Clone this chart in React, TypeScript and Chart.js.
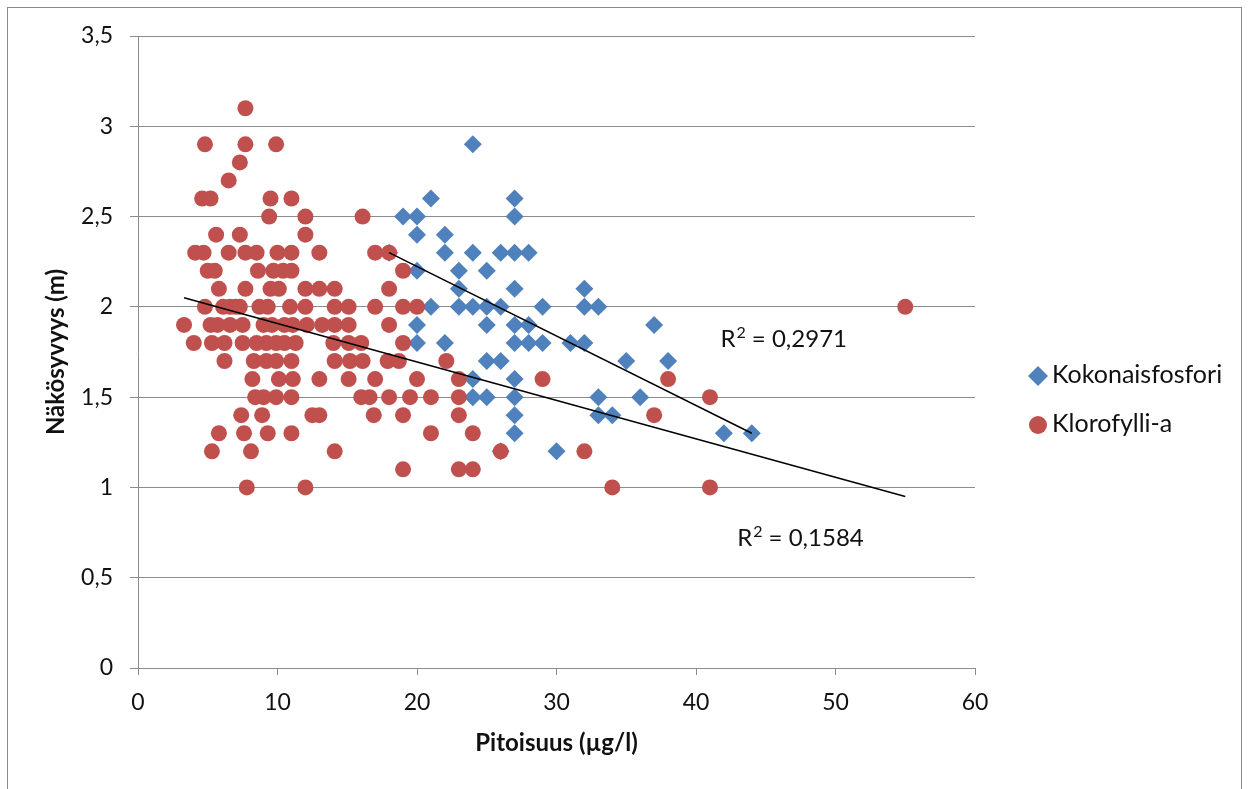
import { useEffect, useRef } from 'react';
import { Chart, registerables } from 'chart.js';

Chart.register(...registerables);

// ---------- data ----------
const seriesNames = ['Kokonaisfosfori', 'Klorofylli-a'];
const xTitle = 'Pitoisuus (µg/l)';
const yTitle = 'Näkösyvyys (m)';
const r2Values = ['0,2971', '0,1584'];

// Kokonaisfosfori (blue diamonds)
const kokX = [
  24,
  21, 27,
  19, 20, 27,
  20, 22,
  18, 22, 24, 26, 27, 28,
  20, 23, 25,
  23, 27, 32,
  21, 23, 24, 25, 26, 29, 32, 33,
  20, 25, 27, 28, 37,
  20, 22, 27, 28, 29, 31, 32,
  25, 26, 35, 38,
  24, 27,
  24, 25, 27, 33, 36,
  27, 33, 34,
  27, 42, 44,
  26, 30,
];
const kokY = [
  2.9,
  2.6, 2.6,
  2.5, 2.5, 2.5,
  2.4, 2.4,
  2.3, 2.3, 2.3, 2.3, 2.3, 2.3,
  2.2, 2.2, 2.2,
  2.1, 2.1, 2.1,
  2.0, 2.0, 2.0, 2.0, 2.0, 2.0, 2.0, 2.0,
  1.9, 1.9, 1.9, 1.9, 1.9,
  1.8, 1.8, 1.8, 1.8, 1.8, 1.8, 1.8,
  1.7, 1.7, 1.7, 1.7,
  1.6, 1.6,
  1.5, 1.5, 1.5, 1.5, 1.5,
  1.4, 1.4, 1.4,
  1.3, 1.3, 1.3,
  1.2, 1.2,
];

// Klorofylli-a (red circles)
const kloX = [
  7.7,
  4.8, 7.7, 9.9,
  7.3,
  6.5,
  4.6, 5.2, 9.5, 11.0,
  9.4, 12.0, 16.1,
  5.6, 7.3, 12.0,
  4.1, 4.7, 6.5, 7.7, 8.5, 10.0, 11.0, 13.0, 17.0, 18.0,
  5.0, 5.5, 8.6, 9.7, 10.4, 11.0, 19.0,
  5.8, 7.7, 9.5, 10.1, 12.0, 13.0, 14.1, 18.0,
  4.8, 6.1, 6.6, 7.0, 7.3, 8.7, 9.3, 10.9, 12.0, 14.1, 15.1, 17.0, 19.0, 20.0, 55.0,
  3.3, 5.2, 5.7, 6.6, 7.5, 9.0, 9.6, 10.5, 11.1, 12.1, 13.2, 14.1, 15.1, 18.0,
  4.0, 5.3, 6.2, 7.5, 8.5, 9.2, 9.9, 10.5, 11.3, 14.0, 15.1, 16.0, 19.0,
  6.2, 8.3, 9.2, 9.9, 11.0, 14.1, 15.2, 16.1, 17.9, 18.7, 22.1,
  8.2, 10.1, 11.1, 13.0, 15.1, 17.0, 20.0, 23.0, 29.0, 38.0,
  8.4, 9.0, 9.9, 11.0, 16.0, 16.6, 18.0, 19.5, 21.0, 23.0, 41.0,
  7.4, 8.9, 12.5, 13.0, 16.9, 19.0, 23.0, 37.0,
  5.8, 7.6, 9.3, 11.0, 21.0, 24.0,
  5.3, 8.1, 14.1, 26.0, 32.0,
  19.0, 23.0, 24.0,
  7.8, 12.0, 34.0, 41.0,
];
const kloY = [
  3.1,
  2.9, 2.9, 2.9,
  2.8,
  2.7,
  2.6, 2.6, 2.6, 2.6,
  2.5, 2.5, 2.5,
  2.4, 2.4, 2.4,
  2.3, 2.3, 2.3, 2.3, 2.3, 2.3, 2.3, 2.3, 2.3, 2.3,
  2.2, 2.2, 2.2, 2.2, 2.2, 2.2, 2.2,
  2.1, 2.1, 2.1, 2.1, 2.1, 2.1, 2.1, 2.1,
  2.0, 2.0, 2.0, 2.0, 2.0, 2.0, 2.0, 2.0, 2.0, 2.0, 2.0, 2.0, 2.0, 2.0, 2.0,
  1.9, 1.9, 1.9, 1.9, 1.9, 1.9, 1.9, 1.9, 1.9, 1.9, 1.9, 1.9, 1.9, 1.9,
  1.8, 1.8, 1.8, 1.8, 1.8, 1.8, 1.8, 1.8, 1.8, 1.8, 1.8, 1.8, 1.8,
  1.7, 1.7, 1.7, 1.7, 1.7, 1.7, 1.7, 1.7, 1.7, 1.7, 1.7,
  1.6, 1.6, 1.6, 1.6, 1.6, 1.6, 1.6, 1.6, 1.6, 1.6,
  1.5, 1.5, 1.5, 1.5, 1.5, 1.5, 1.5, 1.5, 1.5, 1.5, 1.5,
  1.4, 1.4, 1.4, 1.4, 1.4, 1.4, 1.4, 1.4,
  1.3, 1.3, 1.3, 1.3, 1.3, 1.3,
  1.2, 1.2, 1.2, 1.2, 1.2,
  1.1, 1.1, 1.1,
  1.0, 1.0, 1.0, 1.0,
];

// linear trendline end points
const trendKokX = [18, 44];
const trendKokY = [2.3, 1.3];
const trendKloX = [3.3, 55];
const trendKloY = [2.05, 0.95];

// axis ranges / ticks
const xRange = [0, 60];
const xStep = 10;
const yRange = [0, 3.5];
const yStep = 0.5;

// ---------- styling ----------
const FONT = 'Lato, "Liberation Sans", sans-serif';
const BLUE = '#4F81BD';
const RED = '#C0504D';
const GRID = '#8c8c8c';
const TEXT = '#111111';

const zip = (xs: number[], ys: number[]) => xs.map((x, i) => ({ x, y: ys[i] }));

const legendPlugin = {
  id: 'customLegend',
  afterDraw(chart: any) {
    const { ctx, chartArea } = chart;
    const x0 = chartArea.right + 63;
    const rows = [chartArea.top + 340, chartArea.top + 389];
    ctx.save();
    ctx.fillStyle = BLUE;
    ctx.beginPath();
    ctx.moveTo(x0 - 10, rows[0]);
    ctx.lineTo(x0, rows[0] - 10);
    ctx.lineTo(x0 + 10, rows[0]);
    ctx.lineTo(x0, rows[0] + 10);
    ctx.closePath();
    ctx.fill();
    ctx.fillStyle = RED;
    ctx.beginPath();
    ctx.arc(x0, rows[1], 9, 0, Math.PI * 2);
    ctx.fill();
    ctx.fillStyle = TEXT;
    ctx.font = `25px ${FONT}`;
    ctx.textBaseline = 'middle';
    ctx.textAlign = 'left';
    ctx.fillText(seriesNames[0], x0 + 14, rows[0] - 1);
    ctx.fillText(seriesNames[1], x0 + 14, rows[1] - 1);
    ctx.restore();
  },
};

const r2Plugin = {
  id: 'r2Labels',
  afterDraw(chart: any, _args: any, opts: any) {
    const { ctx, scales } = chart;
    ctx.save();
    ctx.fillStyle = TEXT;
    ctx.textBaseline = 'alphabetic';
    ctx.textAlign = 'left';
    (opts.anchors || []).forEach((a: any, i: number) => {
      let x = scales.x.getPixelForValue(a.x);
      const base = scales.y.getPixelForValue(a.y) + 8;
      ctx.font = `24px ${FONT}`;
      ctx.fillText('R', x, base);
      x += ctx.measureText('R').width + 1;
      ctx.font = `16px ${FONT}`;
      ctx.fillText('2', x, base - 9);
      x += ctx.measureText('2').width;
      ctx.font = `24px ${FONT}`;
      ctx.fillText(' = ' + r2Values[i], x, base);
    });
    ctx.restore();
  },
};

export default function App() {
  const ref = useRef<HTMLCanvasElement>(null);

  useEffect(() => {
    if (!ref.current) return;
    const chart = new Chart(ref.current, {
      type: 'scatter',
      data: {
        datasets: [
          {
            label: seriesNames[0],
            data: zip(kokX, kokY),
            pointStyle: 'rectRot',
            pointRadius: 9,
            pointHoverRadius: 9,
            backgroundColor: BLUE,
            borderColor: BLUE,
            borderWidth: 0,
            order: 2,
          },
          {
            label: seriesNames[1],
            data: zip(kloX, kloY),
            pointStyle: 'circle',
            pointRadius: 8,
            pointHoverRadius: 8,
            backgroundColor: RED,
            borderColor: RED,
            borderWidth: 0,
            order: 1,
          },
          {
            label: 'trend1',
            data: zip(trendKokX, trendKokY),
            showLine: true,
            borderColor: '#000000',
            borderWidth: 1.5,
            pointRadius: 0,
            order: 0,
          },
          {
            label: 'trend2',
            data: zip(trendKloX, trendKloY),
            showLine: true,
            borderColor: '#000000',
            borderWidth: 1.5,
            pointRadius: 0,
            order: 0,
          },
        ],
      },
      options: {
        responsive: false,
        animation: false,
        layout: { padding: { top: 36, right: 275, bottom: 0, left: 0 } },
        plugins: {
          legend: { display: false },
          tooltip: { enabled: false },
          r2Labels: { anchors: [{ x: 41.75, y: 1.82 }, { x: 42.95, y: 0.72 }] },
        } as any,
        scales: {
          x: {
            type: 'linear',
            min: xRange[0],
            max: xRange[1],
            ticks: { stepSize: xStep, font: { family: FONT, size: 23 }, color: TEXT, padding: 14 },
            grid: { drawOnChartArea: false, tickLength: 7, tickColor: GRID, lineWidth: 1 },
            border: { color: GRID, width: 1 },
            title: {
              display: true,
              text: xTitle,
              font: { family: FONT, size: 24, weight: 'bold' },
              color: TEXT,
              padding: { top: 0, bottom: 31 },
            },
            afterFit: (s: any) => { s.height = 121; },
          },
          y: {
            type: 'linear',
            min: yRange[0],
            max: yRange[1],
            ticks: {
              stepSize: yStep,
              font: { family: FONT, size: 23 },
              color: TEXT,
              padding: 17,
              callback: (v: any) => String(v).replace('.', ','),
            },
            grid: { color: GRID, tickColor: GRID, tickLength: 8, lineWidth: 1 },
            border: { color: GRID, width: 1 },
            title: {
              display: true,
              text: yTitle,
              font: { family: FONT, size: 24, weight: 'bold' },
              color: TEXT,
              padding: { top: 42, bottom: 0 },
            },
            afterFit: (s: any) => { s.width = 138; },
          },
        } as any,
      },
      plugins: [legendPlugin, r2Plugin],
    });
    return () => chart.destroy();
  }, []);

  return (
    <div style={{ position: 'absolute', left: 0, top: 0, width: 1250, height: 789, overflow: 'hidden', background: '#fff' }}>
      <div
        style={{
          position: 'absolute',
          left: 7,
          top: 7,
          width: 1235,
          height: 820,
          border: '1px solid #8a8a8a',
          boxSizing: 'border-box',
          pointerEvents: 'none',
        }}
      />
      <canvas ref={ref} width={1250} height={789} style={{ position: 'absolute', left: 0, top: 0 }} />
    </div>
  );
}
